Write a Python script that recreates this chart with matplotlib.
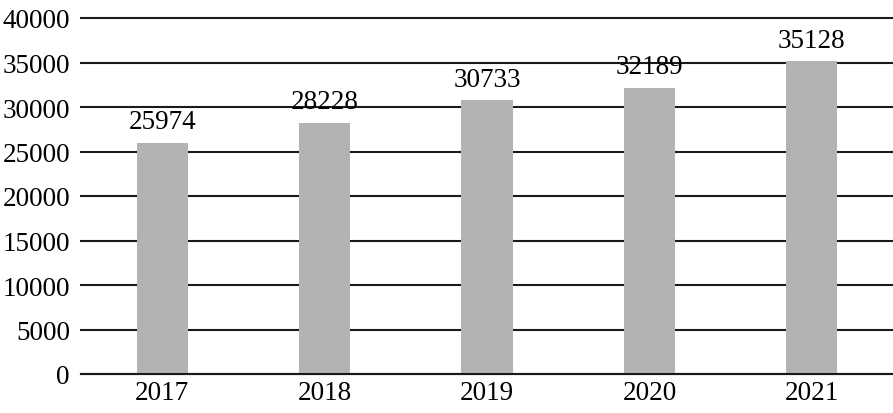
import matplotlib
matplotlib.use("Agg")
import matplotlib.pyplot as plt

years = ["2017", "2018", "2019", "2020", "2021"]
values = [25974, 28228, 30733, 32189, 35128]
yticks = [0, 5000, 10000, 15000, 20000, 25000, 30000, 35000, 40000]

plt.rcParams['font.family'] = ['Liberation Serif', 'DejaVu Serif']

fig = plt.figure(figsize=(8.93, 4.14), dpi=100)
ax = fig.add_axes([81/893, 39/414, 812/893, 356/414])

x = list(range(len(years)))
ax.set_axisbelow(True)
ax.bar(x, values, width=0.315, color='#b3b3b3', zorder=2)
for xi, v in zip(x, values):
    ax.text(xi, v + 950, str(v), ha='center', va='bottom', fontsize=19.5, zorder=3)

ax.set_xlim(-0.5, len(years) - 0.5)
ax.set_ylim(0, 40000)
ax.set_yticks(yticks)
ax.set_yticklabels([str(t) for t in yticks])
ax.set_xticks(x)
ax.set_xticklabels(years)
ax.yaxis.grid(True, color='#1a1a1a', linewidth=1.5, zorder=0)
for gl in ax.get_ygridlines():
    gl.set_clip_on(False)
for s in ['top', 'right', 'left']:
    ax.spines[s].set_visible(False)
ax.spines['bottom'].set_color('#1a1a1a')
ax.spines['bottom'].set_linewidth(1.5)
ax.tick_params(axis='both', length=0, labelsize=19.5, pad=8)
ax.tick_params(axis='x', pad=4)

fig.savefig("out.png", dpi=100)
